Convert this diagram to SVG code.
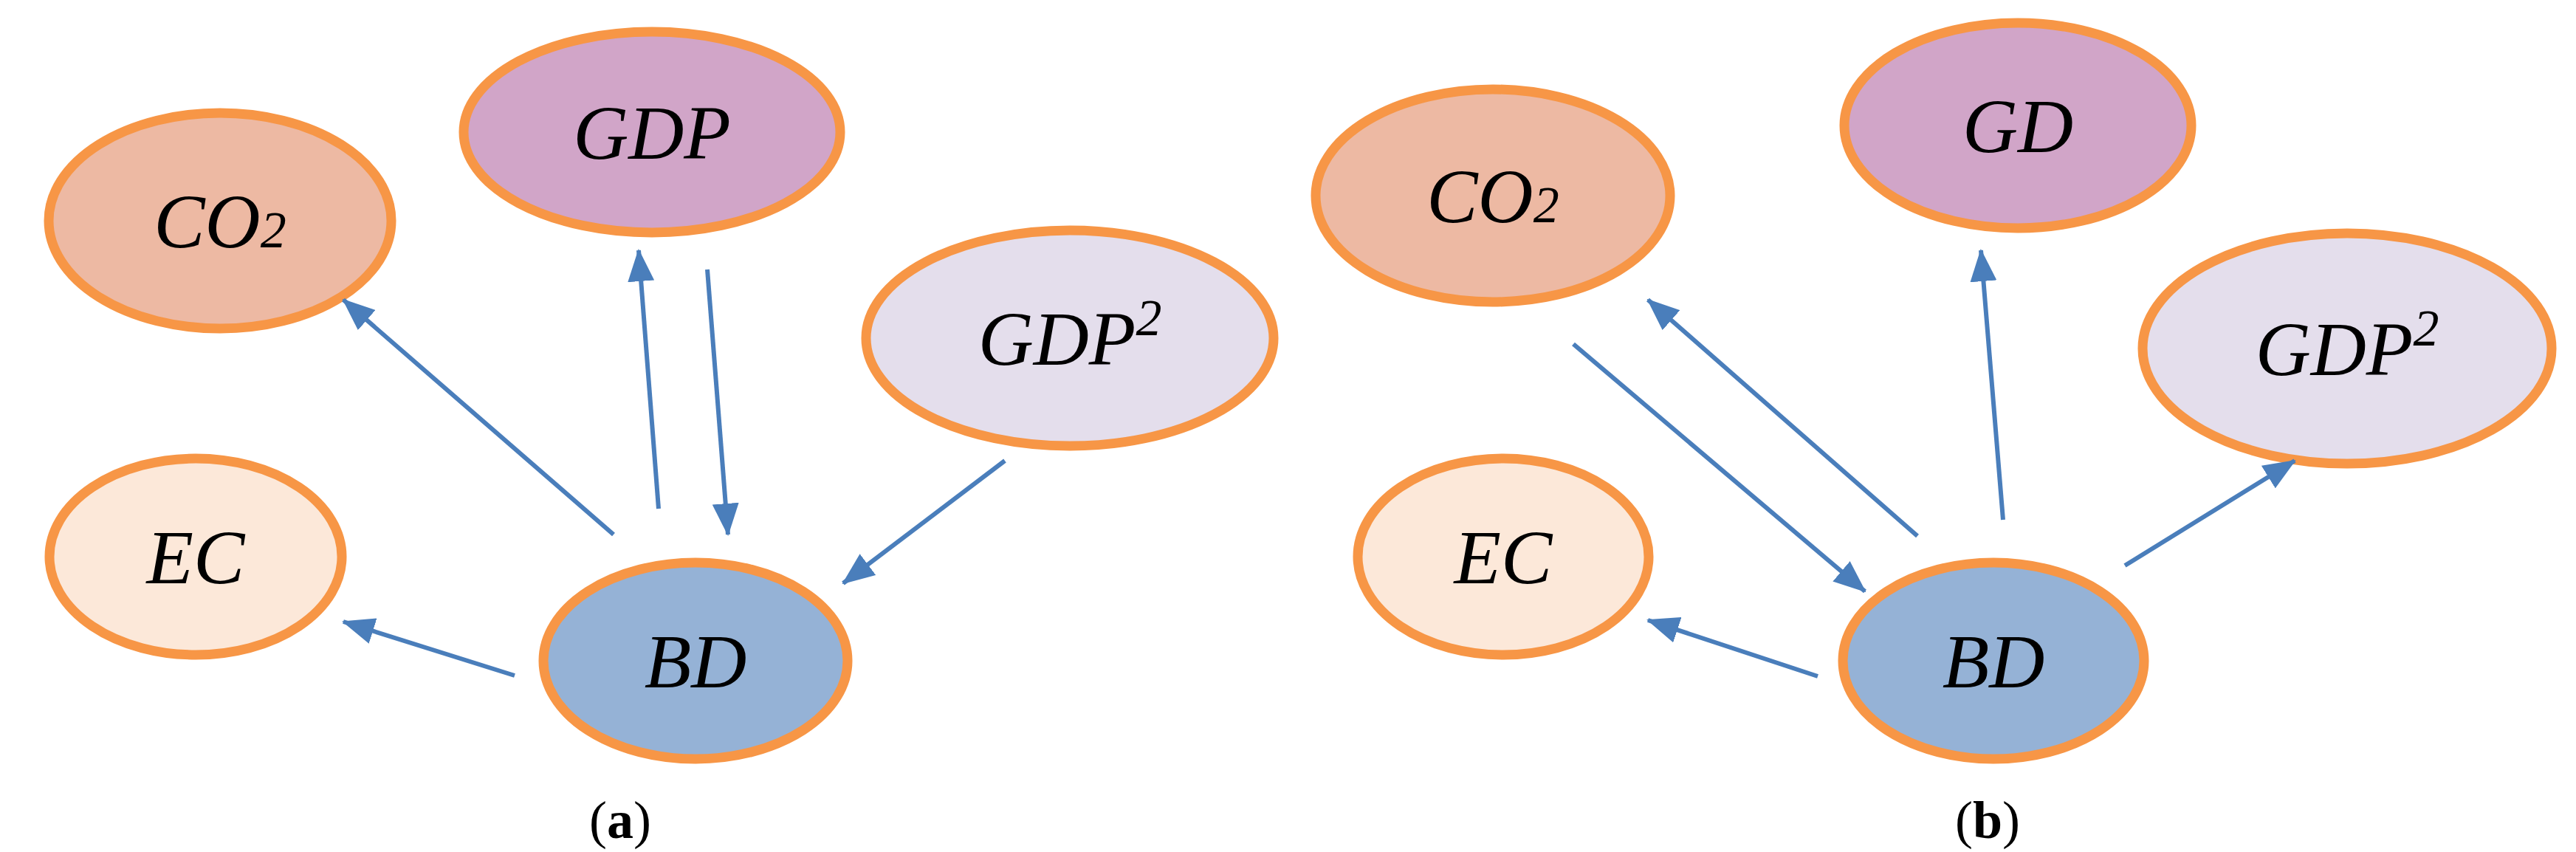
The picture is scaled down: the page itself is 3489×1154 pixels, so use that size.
<svg xmlns="http://www.w3.org/2000/svg" width="3489" height="1154" viewBox="0 0 3489 1154">
<style>
.n{stroke:#F79646;stroke-width:13}
.t{font-family:"Liberation Serif",serif;font-style:italic;font-size:104px;fill:#000;text-anchor:middle}
.c line{stroke:#4A7EBB;stroke-width:6;marker-end:url(#ah)}
.lab{font-family:"Liberation Serif",serif;font-size:72px;text-anchor:middle}
</style>
<defs><marker id="ah" markerUnits="userSpaceOnUse" markerWidth="44" markerHeight="36" refX="42" refY="18" orient="auto"><path d="M0,0 L44,18 L0,36 Z" fill="#4A7EBB"/></marker></defs>
<rect width="3489" height="1154" fill="#fff"/>
<g id="a-co2"><ellipse class="n" cx="298" cy="299" rx="232" ry="146" fill="#EDB9A3"/><text class="t" x="298" y="335">CO<tspan font-size="70">2</tspan></text></g>
<g id="a-gdp"><ellipse class="n" cx="883" cy="179" rx="255" ry="136" fill="#D1A5C8"/><text class="t" x="883" y="215">GDP</text></g>
<g id="a-gdp2"><ellipse class="n" cx="1449" cy="458" rx="276" ry="146" fill="#E4DEEC"/><text class="t" x="1449" y="494">GDP<tspan font-size="70" dy="-40">2</tspan></text></g>
<g id="a-ec"><ellipse class="n" cx="265" cy="754" rx="198" ry="133" fill="#FCE8D9"/><text class="t" x="265" y="790">EC</text></g>
<g id="a-bd"><ellipse class="n" cx="942" cy="895" rx="206" ry="133" fill="#95B2D6"/><text class="t" x="942" y="931">BD</text></g>
<g id="b-co2"><ellipse class="n" cx="2022" cy="265" rx="240" ry="144" fill="#EDB9A3"/><text class="t" x="2022" y="301">CO<tspan font-size="70">2</tspan></text></g>
<g id="b-gd"><ellipse class="n" cx="2733" cy="170" rx="235" ry="139" fill="#D1A5C8"/><text class="t" x="2733" y="206">GD</text></g>
<g id="b-gdp2"><ellipse class="n" cx="3179" cy="472" rx="277" ry="156" fill="#E4DEEC"/><text class="t" x="3179" y="508">GDP<tspan font-size="70" dy="-40">2</tspan></text></g>
<g id="b-ec"><ellipse class="n" cx="2036" cy="754" rx="197" ry="133" fill="#FCE8D9"/><text class="t" x="2036" y="790">EC</text></g>
<g id="b-bd"><ellipse class="n" cx="2700" cy="895" rx="204" ry="133" fill="#95B2D6"/><text class="t" x="2700" y="931">BD</text></g>
<g class="c" id="connectors">
<line x1="831" y1="724" x2="465" y2="406"/>
<line x1="892" y1="689" x2="865" y2="339"/>
<line x1="958" y1="365" x2="986" y2="724"/>
<line x1="1361" y1="624" x2="1142" y2="790"/>
<line x1="697" y1="915" x2="465" y2="842"/>
<line x1="2131" y1="466" x2="2526" y2="801"/>
<line x1="2597" y1="726" x2="2232" y2="406"/>
<line x1="2713" y1="704" x2="2683" y2="339"/>
<line x1="2878" y1="766" x2="3108" y2="624"/>
<line x1="2462" y1="916" x2="2232" y2="840"/>
</g>
<text class="lab" x="840" y="1135">(<tspan font-weight="bold">a</tspan>)</text>
<text class="lab" x="2692" y="1135">(<tspan font-weight="bold">b</tspan>)</text>
</svg>
